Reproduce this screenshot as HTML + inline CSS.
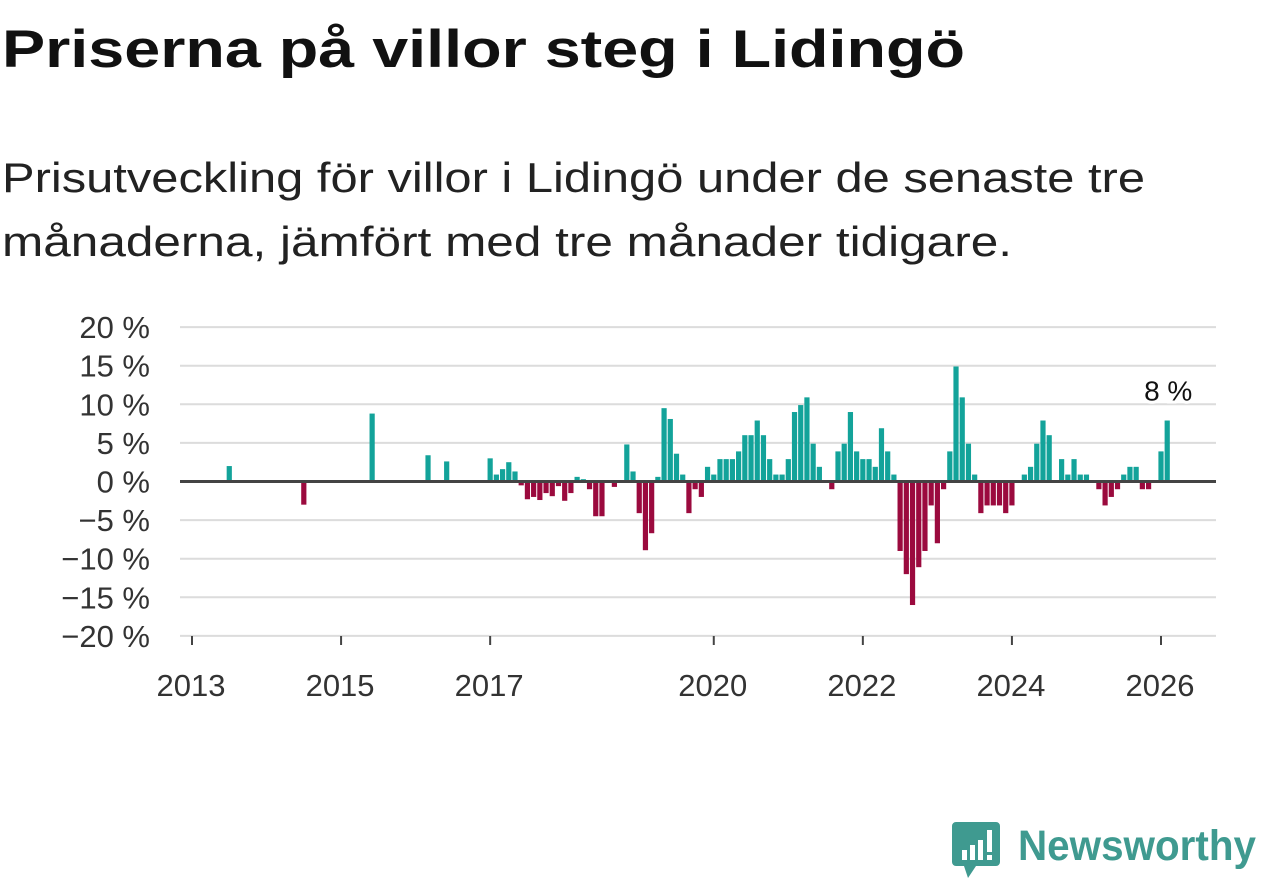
<!DOCTYPE html>
<html><head><meta charset="utf-8">
<style>
html,body{margin:0;padding:0;background:#fff;width:1262px;height:879px;overflow:hidden;font-family:"Liberation Sans",sans-serif;}
svg{display:block}
</style></head>
<body>
<svg id="chart" width="1262" height="879" viewBox="0 0 1262 879">
  <text x="2" y="67" font-size="53" font-weight="bold" fill="#111" textLength="963" lengthAdjust="spacingAndGlyphs">Priserna på villor steg i Lidingö</text>
  <text x="2" y="192" font-size="42" fill="#222" textLength="1143" lengthAdjust="spacingAndGlyphs">Prisutveckling för villor i Lidingö under de senaste tre</text>
  <text x="2" y="256" font-size="42" fill="#222" textLength="1010" lengthAdjust="spacingAndGlyphs">månaderna, jämfört med tre månader tidigare.</text>
  <g id="grid"></g>
  <g id="yticks"></g>
  <g id="xticks"></g>
  <g id="bars"></g>
  <line id="zero" x1="180" x2="1216" stroke="#444" stroke-width="3"></line>
  <g id="annot"></g>
  <g>
    <path d="M956 822 h40 a4 4 0 0 1 4 4 v36 a4 4 0 0 1 -4 4 h-20 l-8 12 l-4 -12 h-8 a4 4 0 0 1 -4 -4 v-36 a4 4 0 0 1 4 -4z" fill="#3f9a90"/>
    <rect x="962" y="850" width="5" height="10" fill="#fff"/>
    <rect x="970" y="845" width="5" height="15" fill="#fff"/>
    <rect x="978" y="840" width="5" height="20" fill="#fff"/>
    <rect x="987" y="830" width="5" height="22" fill="#fff"/>
    <rect x="987" y="855" width="5" height="5" fill="#fff"/>
    <text x="1018" y="860" font-size="43" font-weight="bold" fill="#3f9a90" textLength="238" lengthAdjust="spacingAndGlyphs">Newsworthy</text>
  </g>
</svg>
<script>
const months = [6,18,29,38,41,48,49,50,51,52,53,54,55,56,57,58,59,60,61,62,63,64,65,66,68,70,71,72,73,74,75,76,77,78,79,80,81,82,83,84,85,86,87,88,89,90,91,92,93,94,95,96,97,98,99,100,101,103,104,105,106,107,108,109,110,111,112,113,114,115,116,117,118,119,120,121,122,123,124,125,126,127,128,129,130,131,132,134,135,136,137,138,140,141,142,143,144,146,147,148,149,150,151,152,153,154,156,157];
const values = [2,-3,8.8,3.4,2.6,3,0.9,1.6,2.5,1.3,-0.5,-2.3,-2,-2.4,-1.5,-1.9,-0.6,-2.5,-1.5,0.6,0.3,-1,-4.5,-4.5,-0.7,4.8,1.3,-4.1,-8.9,-6.7,0.6,9.5,8.1,3.6,0.9,-4.1,-1,-2,1.9,0.9,2.9,2.9,2.9,3.9,6,6,7.9,6,2.9,0.9,0.9,2.9,9,9.9,10.9,4.9,1.9,-1,3.9,4.9,9,3.9,2.9,2.9,1.9,6.9,3.9,0.9,-9,-12,-16,-11.1,-9,-3.1,-8,-1,3.9,14.9,10.9,4.9,0.9,-4.1,-3.1,-3.1,-3.1,-4.1,-3.1,0.9,1.9,4.9,7.9,6,2.9,0.9,2.9,0.9,0.9,-1,-3.1,-2,-1,0.9,1.9,1.9,-1,-1,3.9,7.9];
const yTicks = [20,15,10,5,0,-5,-10,-15,-20];
const xYears = [2013,2015,2017,2020,2022,2024,2026];

const NS='http://www.w3.org/2000/svg';
const Y0=481.5, PPU=7.72;
function y(v){return Y0 - v*PPU;}
function x(m){return 192 + m*(969/156);}
function xYear(yr){return x((yr-2013)*12);}
function mk(tag,attrs,parent){const e=document.createElementNS(NS,tag);for(const k in attrs)e.setAttribute(k,attrs[k]);parent.appendChild(e);return e;}

const grid=document.getElementById('grid'), yt=document.getElementById('yticks'), xt=document.getElementById('xticks'), bars=document.getElementById('bars');
yTicks.forEach(t=>{
  const l=mk('line',{x1:180,x2:1216,y1:y(t),y2:y(t),stroke:'#dcdcdc','stroke-width':2},grid);
  
  
  const tx=mk('text',{x:150,y:y(t)+11,'font-size':31,fill:'#333','text-anchor':'end'},yt);
  tx.textContent=(t<0?'\u2212'+(-t):t)+' %';
  
  
});
xYears.forEach(yr=>{
  const l=mk('line',{x1:xYear(yr),x2:xYear(yr),y1:636,y2:645,stroke:'#444','stroke-width':2},xt);
  
  
  const tx=mk('text',{x:xYear(yr)-1,y:696,'font-size':31,fill:'#333','text-anchor':'middle'},xt);
  tx.textContent=yr;
  
  
});
months.forEach((m,i)=>{
  const v=values[i];
  const r=mk('rect',{x:x(m)-2.6,width:5.2,y:v>=0?y(v):Y0,height:Math.abs(v*PPU),fill:v>=0?'#13a39a':'#9b0a3e'},bars);
  
  
});
const z=document.getElementById('zero'); z.setAttribute('y1',Y0); z.setAttribute('y2',Y0);
const li=months.length-1;
const an=document.getElementById('annot');
const lab=mk('text',{x:x(months[li])+1,y:y(values[li])-20,'font-size':28,fill:'#111','text-anchor':'middle',stroke:'#fff','stroke-width':6,'paint-order':'stroke'},an);
lab.textContent=Math.round(values[li])+' %';


</script>
</body></html>
